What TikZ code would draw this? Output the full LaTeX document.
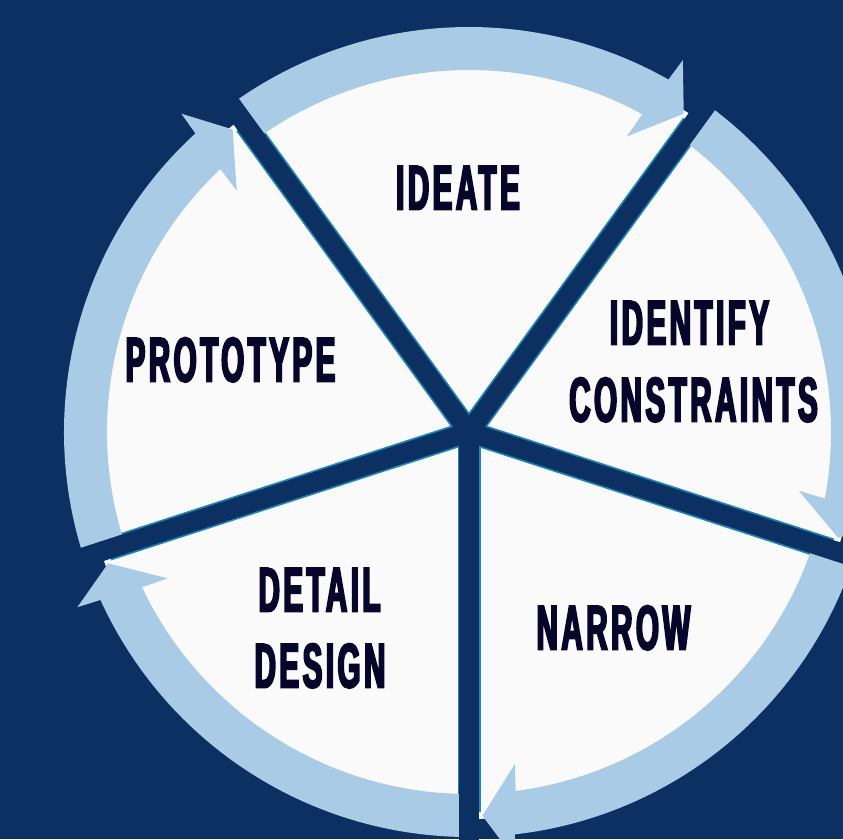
\documentclass[tikz,border=0pt]{standalone}
\usepackage{fontspec}
\newfontfamily\lblfont{Liberation Sans}[FakeStretch=0.47,FakeBold=3,LetterSpace=5.5]
\definecolor{navy}{HTML}{0B3061}
\definecolor{ringblue}{HTML}{A9CBE5}
\definecolor{paper}{HTML}{FAFAFA}
\definecolor{edgeteal}{HTML}{1C86B4}
\definecolor{txt}{HTML}{05062A}
\begin{document}
\begin{tikzpicture}[x=1pt,y=1pt,
  ringseg/.style={fill=ringblue},
  sepline/.style={draw=navy, line width=19.5pt, line cap=butt},
  sepedge/.style={draw=edgeteal, line width=23pt, line cap=butt},
  lbl/.style={font=\lblfont\bfseries\fontsize{63}{77}\selectfont, text=txt, anchor=base, inner sep=0pt}]
\useasboundingbox (0,0) rectangle (843,-839);
\clip (0,0) rectangle (843,-839);
\fill[navy] (0,0) rectangle (843,-839);
\coordinate (C) at (469,-432);
\begin{scope}[shift={(C)}]
  \fill[paper] (0,0) circle[radius=387pt];
  \foreach \a in {126,54,-18,-90,-162} \draw[sepedge] (0,0) -- (\a:380pt);
  \foreach \e in {54,-18,-90,-162,126} {
    \pgfmathsetmacro\s{\e+72}
    \fill[ringseg] (\s:405pt) arc[start angle=\s, end angle=\e+6.5, radius=405pt]
      -- (\e+6.1:429pt) -- (\e+2:384pt) -- (\e+7.9:335pt) -- (\e+7.4:362pt)
      arc[start angle=\e+7.4, end angle=\s, radius=362pt] -- cycle;
  }
  \foreach \a in {126,54,-18,-90,-162} \draw[sepline] (0,0) -- (\a:420pt);
\end{scope}
\node[lbl] (ideate) at (458,-209.5) {IDEATE};
\node[lbl] (identify) at (689.5,-344.5) {IDENTIFY};
\node[lbl] (constraints) at (693.5,-421.5) {CONSTRAINTS};
\node[lbl] (prototype) at (230.5,-381.5) {PROTOTYPE};
\node[lbl] (detail) at (319.5,-611.5) {DETAIL};
\node[lbl] (design) at (320,-687.5) {DESIGN};
\node[lbl] (narrow) at (613.5,-649.5) {NARROW};
\end{tikzpicture}
\end{document}
